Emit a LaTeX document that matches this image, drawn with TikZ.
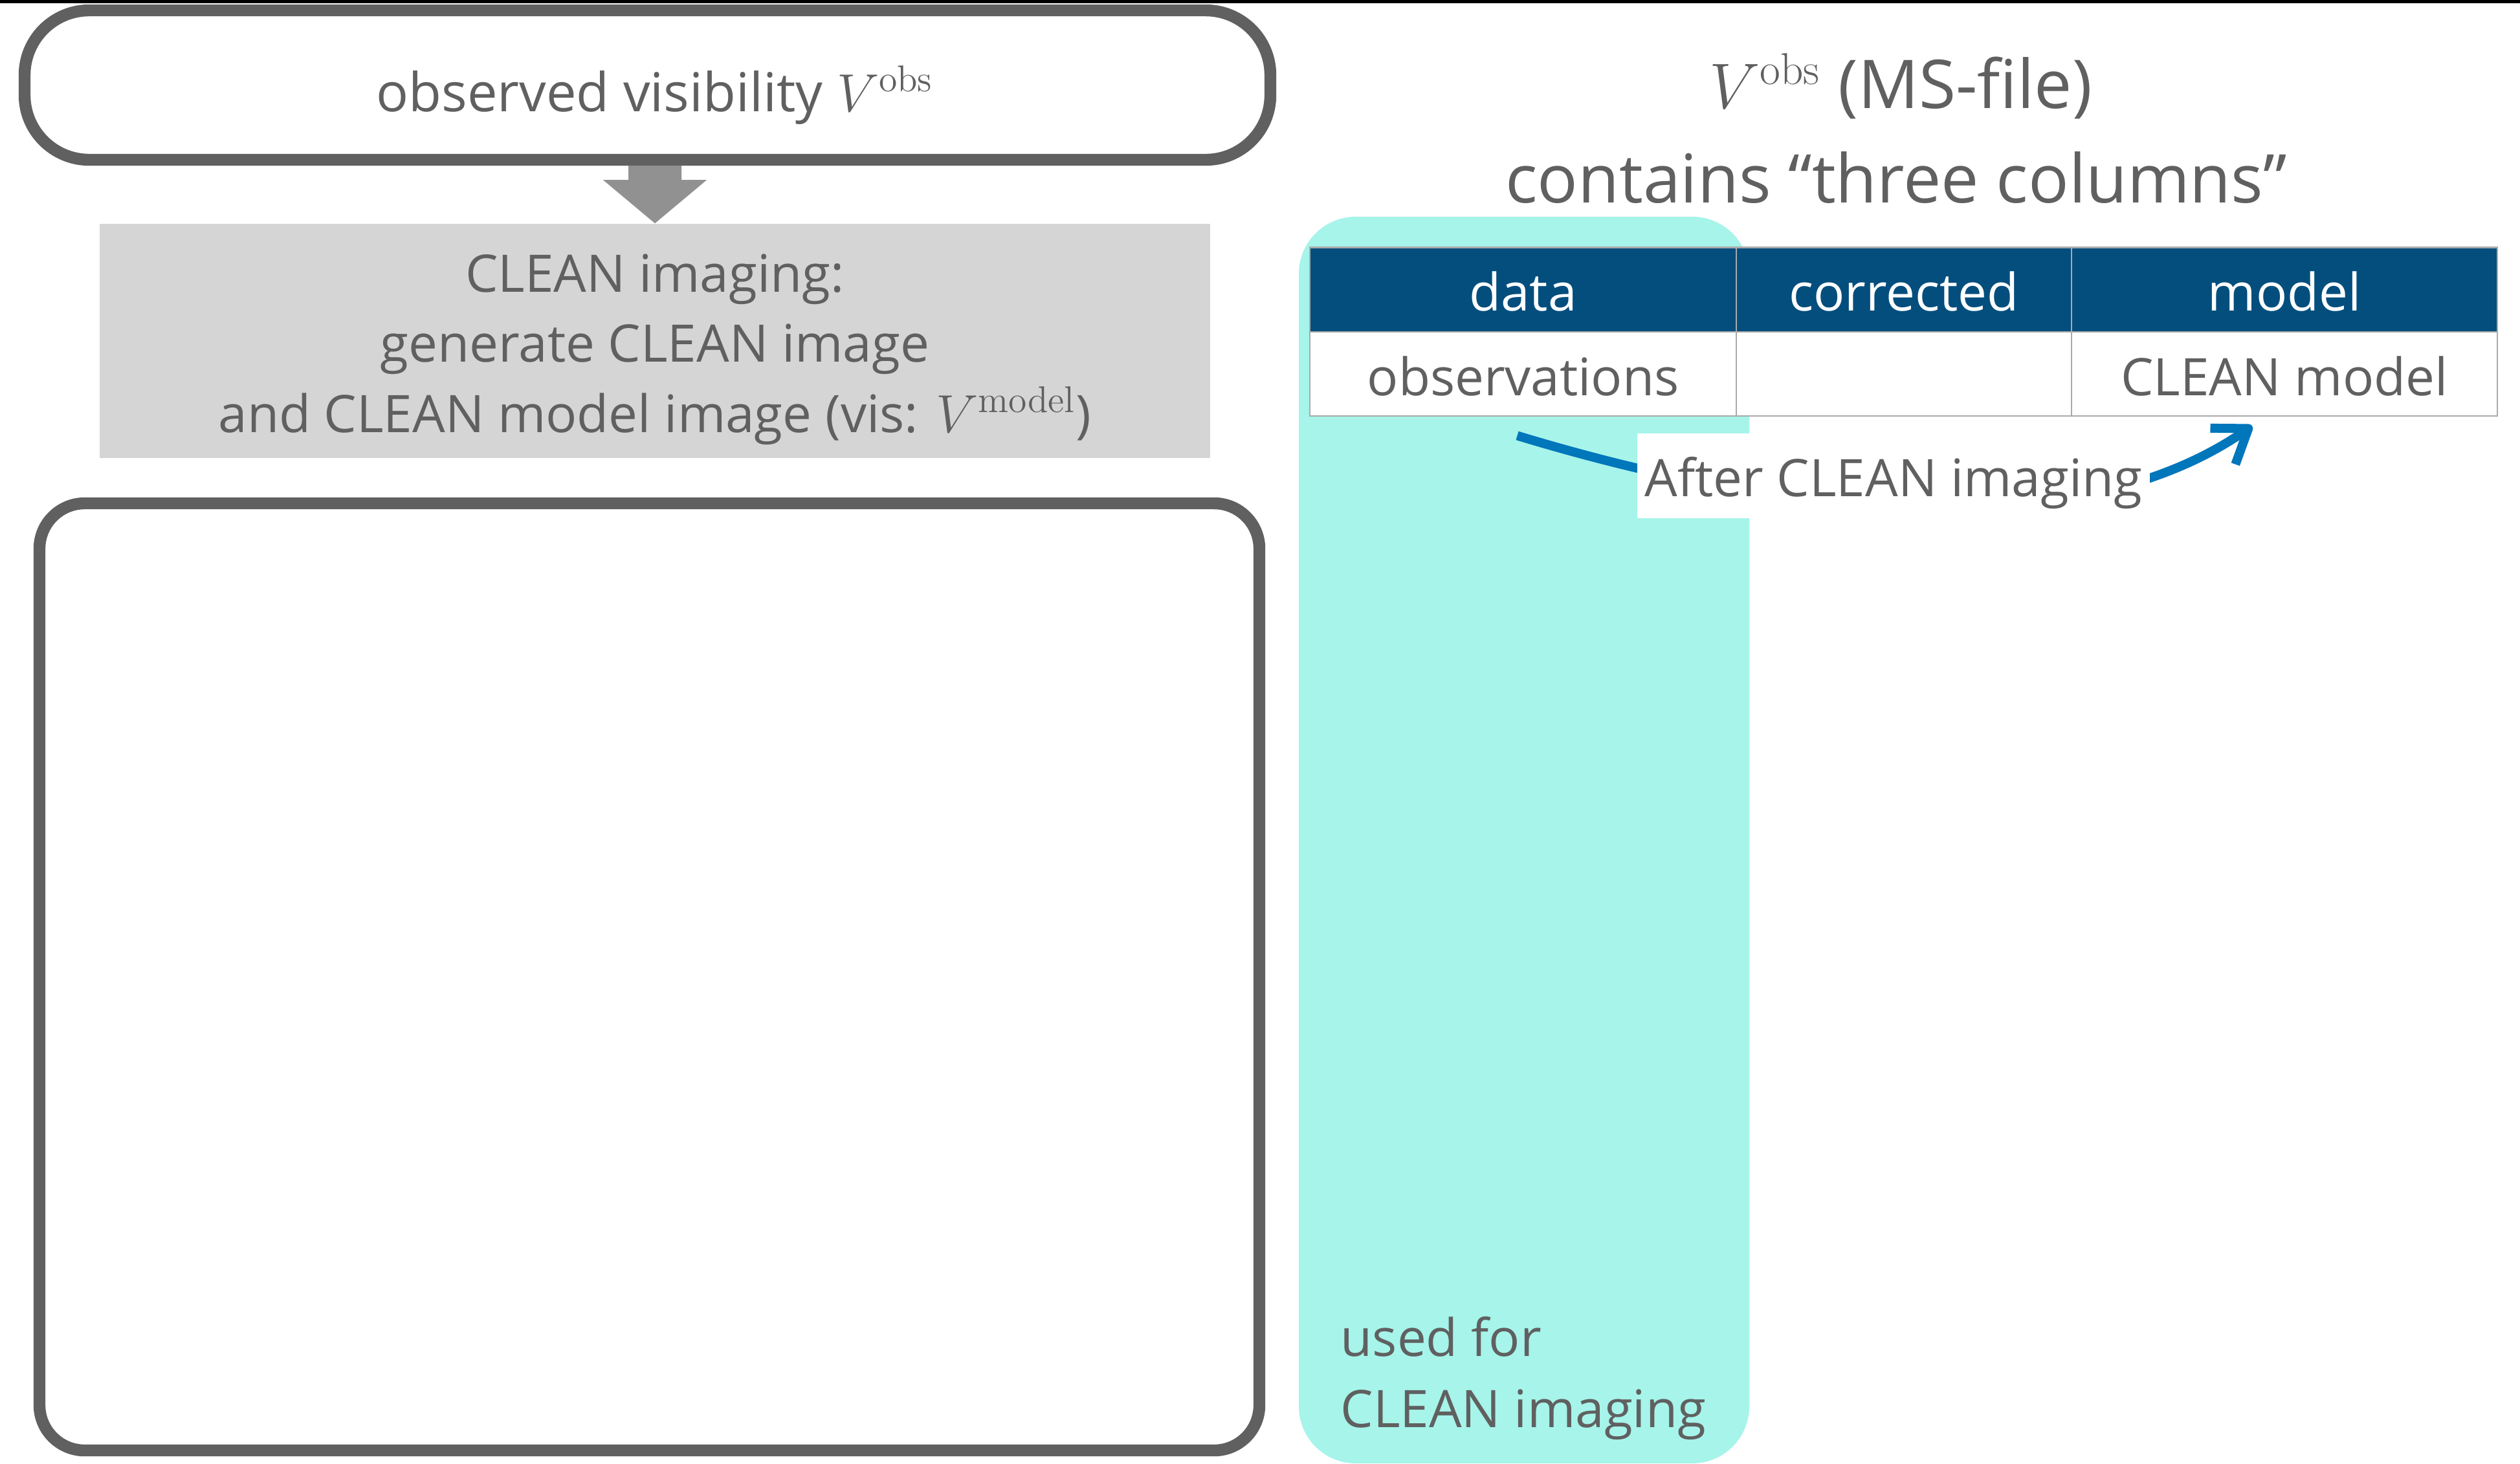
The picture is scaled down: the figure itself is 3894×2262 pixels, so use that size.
\documentclass[tikz,border=0pt]{standalone}
\usepackage[no-math]{fontspec}
\setmainfont{Open Sans}
\usetikzlibrary{arrows.meta,calc}

\definecolor{ink}{RGB}{96,96,96}
\definecolor{arrowgray}{RGB}{145,145,145}
\definecolor{boxgray}{RGB}{213,213,213}
\definecolor{hlcyan}{RGB}{166,244,234}
\definecolor{headblue}{RGB}{3,78,125}
\definecolor{rulegray}{RGB}{170,170,170}
\definecolor{flowblue}{RGB}{0,118,187}

\begin{document}
\begin{tikzpicture}[x=0.25pt, y=-0.25pt,
  every node/.style={inner sep=0pt},
  txt/.style={font=\fontsize{20pt}{27pt}\selectfont, text=ink},
  titletxt/.style={font=\fontsize{26pt}{35pt}\selectfont, text=ink},
  outlinebox/.style={draw=ink, line width=4.6pt, fill=white},
  tcell/.style={txt, draw=rulegray, line width=0.6pt, fill=white,
    text height=19.5pt, text depth=3pt, minimum height=32.6pt},
  thead/.style={tcell, fill=headblue, text=white},
  flow/.style={draw=flowblue, line width=3.5pt,
    -{Straight Barb[length=12pt,width=17pt,line join=round]}}
]
\useasboundingbox (0,0) rectangle (3894,2262);
\fill[white] (0,0) rectangle (3894,2262);
\fill[black] (0,0) rectangle (3894,5);

% ---------- left column: processing flow ----------
\node[outlinebox, rounded corners=25pt, minimum width=481.25pt, minimum height=57.75pt]
  (topbox) at (1000.5,131.5) {};
\node[txt, font=\fontsize{20.75pt}{28pt}\selectfont, anchor=base]
  (toptext) at (1012,172) {observed visibility $V^{\mathrm{obs}}$};

\node[fill=boxgray, minimum width=429pt, minimum height=90.5pt] (cleanbox) at (1012,527) {};
\node[txt, anchor=base] (clean1) at (1012,451) {CLEAN imaging:};
\node[txt, anchor=base] (clean2) at (1012,559) {generate CLEAN image};
\node[txt, anchor=base] (clean3) at (1012,668) {and CLEAN model image (vis: $V^{\mathrm{model}}$)};

% block arrow from the visibility box down to the imaging step
\coordinate (shafttop) at (cleanbox.north |- topbox.south);
\fill[arrowgray] ($(shafttop)+(-41,0)$) -- ($(shafttop)+(41,0)$)
  -- ($(cleanbox.north)+(41,-67)$) -- ($(cleanbox.north)+(80,-67)$)
  -- (cleanbox.north)
  -- ($(cleanbox.north)+(-80,-67)$) -- ($(cleanbox.north)+(-41,-67)$) -- cycle;

\node[outlinebox, rounded corners=17.5pt, minimum width=471.25pt, minimum height=366pt]
  (resultbox) at (1003.5,1510) {};

% ---------- right column: measurement set ----------
\node[titletxt, anchor=base] (title1) at (2937,167) {$V^{\mathrm{obs}}$ (MS-file)};
\node[titletxt, anchor=base] (title2) at (2930,313) {contains “three columns”};

\node[fill=hlcyan, rounded corners=22pt, minimum width=174pt, minimum height=481.75pt]
  (usedcol) at (2355,1298.5) {};

\node[thead, minimum width=164.75pt] (hdata)  at (2353.5,447.5) {data};
\node[thead, minimum width=129.5pt]  (hcorr)  at (2942,447.5)   {corrected};
\node[thead, minimum width=164.5pt]  (hmodel) at (3530,447.5)   {model};
\node[tcell, minimum width=164.75pt] (cobs)   at (2353.5,578)   {observations};
\node[tcell, minimum width=129.5pt]  (ccorr)  at (2942,578)     {};
\node[tcell, minimum width=164.5pt]  (cmodel) at (3530,578)     {CLEAN model};

\coordinate (arrfrom) at ($(cobs.south)+(-9,29)$);
\coordinate (arrto)   at ($(cmodel.south)+(-50,14)$);
\draw[flow] (arrfrom) .. controls +(478,145) and +(-246,171) .. (arrto);

\node[txt, fill=white, inner xsep=3pt, inner ysep=0pt, text height=24.25pt, text depth=8.5pt,
  anchor=base] (afterlbl) at (2926,767) {After CLEAN imaging};

\node[txt, anchor=base west] (used1) at (2071,2096) {used for};
\node[txt, anchor=base west] (used2) at (2071,2206) {CLEAN imaging};
\end{tikzpicture}
\end{document}
